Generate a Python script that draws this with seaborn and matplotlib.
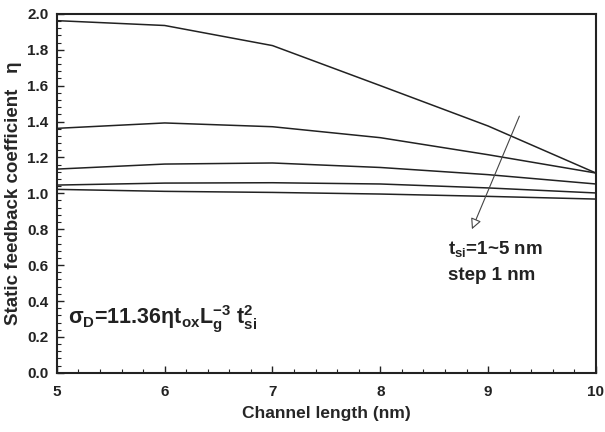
import matplotlib
matplotlib.use("Agg")
import matplotlib.pyplot as plt
import seaborn as sns
import pandas as pd
from matplotlib.ticker import MultipleLocator

# Data
channel_length = [5, 6, 7, 8, 9, 10]
tsi_labels = ["1 nm", "2 nm", "3 nm", "4 nm", "5 nm"]
eta_t5 = [1.962, 1.935, 1.823, 1.600, 1.375, 1.113]
eta_t4 = [1.362, 1.392, 1.371, 1.310, 1.215, 1.113]
eta_t3 = [1.135, 1.163, 1.169, 1.144, 1.104, 1.052]
eta_t2 = [1.046, 1.057, 1.059, 1.052, 1.030, 1.002]
eta_t1 = [1.022, 1.011, 1.005, 0.996, 0.983, 0.968]
series = [eta_t1, eta_t2, eta_t3, eta_t4, eta_t5]

rows = []
for lab, vals in zip(tsi_labels, series):
    for x, v in zip(channel_length, vals):
        rows.append({"L": x, "eta": v, "tsi": lab})
df = pd.DataFrame(rows)

sns.set_theme(style="white")
plt.rcParams["font.family"] = ["Liberation Sans", "DejaVu Sans"]
plt.rcParams["font.weight"] = "bold"
plt.rcParams["mathtext.fontset"] = "custom"
plt.rcParams["mathtext.rm"] = "Liberation Sans:bold"
plt.rcParams["mathtext.it"] = "Liberation Sans:bold"
plt.rcParams["mathtext.bf"] = "Liberation Sans:bold"
plt.rcParams["mathtext.sf"] = "Liberation Sans:bold"
plt.rcParams["mathtext.default"] = "regular"

fig = plt.figure(figsize=(6.05, 4.32), dpi=100)
ax = fig.add_axes([0.094, 0.137, 0.891, 0.831])

sns.lineplot(data=df, x="L", y="eta", hue="tsi",
             palette=["#222222"] * 5, legend=False, lw=1.1, ax=ax)

ax.set_xlim(5, 10)
ax.set_ylim(0, 2.0)
ax.xaxis.set_major_locator(MultipleLocator(1))
ax.xaxis.set_minor_locator(MultipleLocator(0.2))
ax.yaxis.set_major_locator(MultipleLocator(0.2))
ax.yaxis.set_minor_locator(MultipleLocator(0.04))
ax.set_yticks([round(0.2 * i, 1) for i in range(11)])
ax.set_yticklabels([f"{0.2 * i:.1f}" for i in range(11)])
ax.tick_params(axis="both", which="both", direction="in",
               bottom=True, left=True, top=False, right=False,
               labelsize=11, colors="#222222")
ax.tick_params(axis="both", which="major", length=5, width=1, pad=6)
ax.tick_params(axis="x", which="major", pad=9)
ax.tick_params(axis="both", which="minor", length=3, width=0.8)
for lab in ax.get_xticklabels() + ax.get_yticklabels():
    lab.set_fontweight("bold")
for sp in ax.spines.values():
    sp.set_linewidth(1.5)
    sp.set_color("#222222")

ax.set_xlabel("Channel length (nm)", fontsize=12.5, fontweight="bold", labelpad=5)
ax.set_ylabel("Static feedback coefficient   \u03b7", fontsize=13.5, fontweight="bold", labelpad=4)

ax.annotate("", xy=(8.85, 0.80), xytext=(9.29, 1.43),
            arrowprops=dict(arrowstyle="-|>", fc="white", ec="#444444",
                            lw=0.8, mutation_scale=16, shrinkA=0, shrinkB=0))
ax.text(8.63, 0.69, r"t$_{si}$=1~5 nm", fontsize=13.5, fontweight="bold",
        va="center", ha="left", color="#222222")
ax.text(8.63, 0.54, "step 1 nm", fontsize=13.5, fontweight="bold",
        va="center", ha="left", color="#222222")
ax.text(5.1, 0.30, r"$\sigma_D$=11.36$\eta$t$_{ox}$L$_g^{-3}$ t$_{si}^2$",
        fontsize=15.5, fontweight="bold", va="center", ha="left", color="#222222")

fig.savefig("out.png", dpi=100)
